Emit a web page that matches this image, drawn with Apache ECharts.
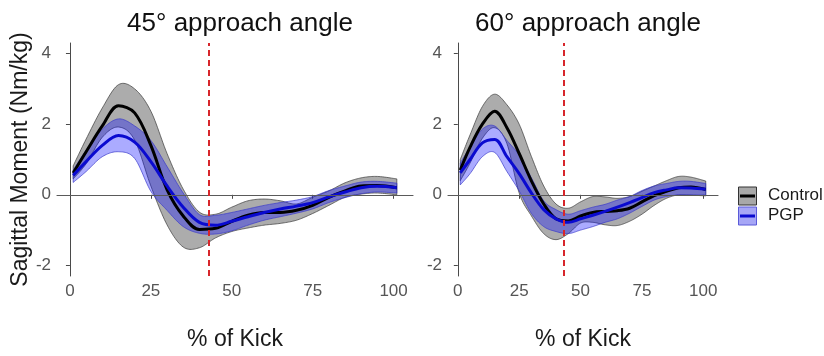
<!DOCTYPE html>
<html>
<head>
<meta charset="utf-8">
<script src="https://cdn.jsdelivr.net/npm/echarts@6/dist/echarts.min.js"></script>
<style>
  html, body { margin: 0; padding: 0; background: #fff; }
  #chart { width: 824px; height: 356px; }
</style>
</head>
<body>
<div id="chart"></div>
<script>
// % of kick sample points
const xs = [1, 5, 10, 15, 20, 25, 30, 35, 40, 45, 50, 55, 60, 65, 70, 75, 80, 85, 90, 95, 101]
const xTicks = [0, 25, 50, 75, 100]
const yTicks = [-2, 0, 2, 4]
const ballContact = 43

// 45 deg approach
const ctrl45Mean = [0.62, 1.22, 1.95, 2.52, 2.32, 1.4, 0.15, -0.6, -0.98, -0.95, -0.75, -0.58, -0.5, -0.5, -0.44, -0.3, -0.07, 0.11, 0.25, 0.26, 0.2]
const ctrl45Up = [0.82, 1.58, 2.46, 3.12, 3.0, 2.37, 1.17, 0.16, -0.49, -0.55, -0.35, -0.17, -0.12, -0.17, -0.26, -0.07, 0.11, 0.34, 0.48, 0.52, 0.45]
const ctrl45Lo = [0.45, 0.88, 1.63, 1.92, 1.55, 0.25, -0.85, -1.48, -1.5, -1.22, -1.04, -0.94, -0.86, -0.81, -0.72, -0.53, -0.3, -0.07, 0.02, 0.05, 0.0]
const pgp45Mean = [0.55, 0.94, 1.4, 1.68, 1.49, 0.94, 0.25, -0.35, -0.78, -0.86, -0.75, -0.62, -0.5, -0.4, -0.32, -0.22, -0.06, 0.08, 0.2, 0.24, 0.2]
const pgp45Up = [0.7, 1.26, 1.86, 2.15, 1.95, 1.54, 0.8, 0.05, -0.56, -0.58, -0.5, -0.4, -0.3, -0.22, -0.15, -0.05, 0.12, 0.25, 0.36, 0.38, 0.33]
const pgp45Lo = [0.35, 0.66, 1.08, 1.22, 1.03, 0.1, -0.44, -0.9, -1.09, -1.11, -1.02, -0.86, -0.72, -0.62, -0.52, -0.4, -0.22, -0.08, 0.03, 0.08, 0.05]

// 60 deg approach
const ctrl60Mean = [0.7, 1.35, 2.0, 2.37, 1.9, 1.17, 0.39, -0.26, -0.68, -0.74, -0.6, -0.5, -0.47, -0.45, -0.38, -0.2, -0.02, 0.1, 0.2, 0.22, 0.15]
const ctrl60Up = [1.0, 1.7, 2.5, 2.85, 2.55, 2.0, 1.08, 0.25, -0.26, -0.38, -0.2, -0.05, -0.06, -0.1, -0.05, 0.1, 0.25, 0.4, 0.52, 0.5, 0.39]
const ctrl60Lo = [0.4, 0.9, 1.6, 1.9, 1.45, 0.05, -0.6, -1.1, -1.27, -1.1, -0.8, -0.78, -0.85, -0.87, -0.75, -0.55, -0.3, -0.1, 0.0, -0.01, -0.03]
const pgp60Mean = [0.62, 1.0, 1.47, 1.57, 1.08, 0.6, 0.05, -0.42, -0.68, -0.78, -0.68, -0.58, -0.47, -0.35, -0.22, -0.08, 0.06, 0.14, 0.2, 0.19, 0.16]
const pgp60Up = [0.9, 1.35, 1.86, 1.95, 1.54, 1.12, 0.48, -0.17, -0.42, -0.55, -0.45, -0.35, -0.27, -0.15, -0.05, 0.12, 0.25, 0.32, 0.38, 0.38, 0.32]
const pgp60Lo = [0.28, 0.6, 1.08, 1.2, 0.66, 0.11, -0.53, -0.9, -1.04, -1.1, -1.0, -0.9, -0.78, -0.68, -0.52, -0.33, -0.15, -0.05, 0.0, 0.0, 0.0]

const FONT = 'Liberation Sans, Arial, sans-serif'
const GREY_FILL = 'rgba(95,95,95,0.52)'
const BLUE_FILL = 'rgba(10,10,255,0.34)'

const pts = ys => xs.map((x, i) => [x, ys[i]])

// catmull-rom through pixel points, sampled densely so the ribbon edge is smooth
function smoothPx (p) {
  const out = []
  const n = p.length
  for (let i = 0; i < n - 1; i++) {
    const p0 = p[Math.max(i - 1, 0)]
    const p1 = p[i]
    const p2 = p[i + 1]
    const p3 = p[Math.min(i + 2, n - 1)]
    for (let s = 0; s < 12; s++) {
      const t = s / 12
      const t2 = t * t
      const t3 = t2 * t
      const f = (a, b, c, d) => 0.5 * ((2 * b) + (-a + c) * t + (2 * a - 5 * b + 4 * c - d) * t2 + (-a + 3 * b - 3 * c + d) * t3)
      out.push([f(p0[0], p1[0], p2[0], p3[0]), f(p0[1], p1[1], p2[1], p3[1])])
    }
  }
  out.push(p[n - 1])
  return out
}

// ribbon between lower and upper bound, drawn as one polygon via axis coords
function band (idx, up, lo, fill, edge) {
  return {
    type: 'custom',
    xAxisIndex: idx,
    yAxisIndex: idx,
    silent: true,
    data: xs.map((x, i) => [x, lo[i], up[i]]),
    encode: { x: 0, y: [1, 2] },
    renderItem: function (params, api) {
      if (params.dataIndex !== 0) return null
      const top = xs.map((x, i) => api.coord([x, up[i]]))
      const bot = xs.map((x, i) => api.coord([x, lo[i]]))
      const poly = smoothPx(top).concat(smoothPx(bot).reverse())
      return {
        type: 'polygon',
        shape: { points: poly },
        style: { fill: fill, stroke: edge, lineWidth: 0.7 }
      }
    }
  }
}

function meanLine (idx, name, ys, color, extra) {
  return Object.assign({
    type: 'line',
    name: name,
    xAxisIndex: idx,
    yAxisIndex: idx,
    data: pts(ys),
    smooth: 0.35,
    symbol: 'none',
    lineStyle: { color: color, width: 3 }
  }, extra || {})
}

const refLines = {
  silent: true,
  symbol: 'none',
  label: { show: false },
  data: [
    { yAxis: 0, lineStyle: { color: '#5a5a5a', width: 1, type: 'solid' } },
    { xAxis: ballContact, lineStyle: { color: '#d7262b', width: 2, type: [6, 4] } }
  ]
}

function xAx (idx) {
  return {
    type: 'value',
    gridIndex: idx,
    min: -4,
    max: 106,
    name: '% of Kick',
    nameLocation: 'middle',
    nameGap: 52,
    nameTextStyle: { fontFamily: FONT, fontSize: 23, color: '#1a1a1a' },
    splitLine: { show: false },
    axisLine: { lineStyle: { color: '#4a4a4a', width: 1 } },
    axisTick: { show: true, length: 4, customValues: xTicks, lineStyle: { color: '#4a4a4a' } },
    axisLabel: { customValues: xTicks, margin: 7, fontFamily: FONT, fontSize: 17, color: '#555' }
  }
}

function yAx (idx, withName) {
  return {
    type: 'value',
    gridIndex: idx,
    min: -2.3,
    max: 4.3,
    name: withName ? 'Sagittal Moment (Nm/kg)' : '',
    nameLocation: 'middle',
    nameGap: 18,
    nameTextStyle: { fontFamily: FONT, fontSize: 23, color: '#1a1a1a' },
    splitLine: { show: false },
    axisLine: { show: true, lineStyle: { color: '#4a4a4a', width: 1 } },
    axisTick: { show: true, length: 4, customValues: yTicks, lineStyle: { color: '#4a4a4a' } },
    axisLabel: { customValues: yTicks, margin: 6, fontFamily: FONT, fontSize: 17, color: '#555' }
  }
}

const chart = echarts.init(document.getElementById('chart'))

const option = {
  animation: false,
  backgroundColor: '#ffffff',
  title: [
    { text: '45° approach angle', left: 235, top: 6, textAlign: 'center',
      textStyle: { fontFamily: FONT, fontSize: 26, fontWeight: 'normal', color: '#111' } },
    { text: '60° approach angle', left: 583, top: 6, textAlign: 'center',
      textStyle: { fontFamily: FONT, fontSize: 26, fontWeight: 'normal', color: '#111' } }
  ],
  grid: [
    { left: 57, top: 43, width: 356, height: 239 },
    { left: 448, top: 43, width: 270, height: 239 }
  ],
  xAxis: [xAx(0), xAx(1)],
  yAxis: [yAx(0, true), yAx(1, false)],
  series: [
    band(0, ctrl45Up, ctrl45Lo, GREY_FILL, '#3a3a3a'),
    meanLine(0, 'Control', ctrl45Mean, '#000'),
    band(0, pgp45Up, pgp45Lo, BLUE_FILL, '#3a3ac8'),
    meanLine(0, 'PGP', pgp45Mean, '#0a0ad0', { markLine: refLines }),

    band(1, ctrl60Up, ctrl60Lo, GREY_FILL, '#3a3a3a'),
    meanLine(1, 'Control', ctrl60Mean, '#000'),
    band(1, pgp60Up, pgp60Lo, BLUE_FILL, '#3a3ac8'),
    meanLine(1, 'PGP', pgp60Mean, '#0a0ad0', { markLine: refLines })
  ],
  // legend drawn like the ggplot keys (filled box + line)
  graphic: [
    { type: 'rect', shape: { x: 738.5, y: 187, width: 18, height: 18 },
      style: { fill: '#a8a8a8', stroke: '#333', lineWidth: 1 } },
    { type: 'line', shape: { x1: 740, y1: 196, x2: 755, y2: 196 },
      style: { stroke: '#000', lineWidth: 3 } },
    { type: 'rect', shape: { x: 738.5, y: 207, width: 18, height: 18 },
      style: { fill: '#a6a6f6', stroke: '#5a5ad8', lineWidth: 1 } },
    { type: 'line', shape: { x1: 740, y1: 216, x2: 755, y2: 216 },
      style: { stroke: '#0a0ad0', lineWidth: 3 } },
    { type: 'text', left: 768, top: 187,
      style: { text: 'Control', font: '17px ' + FONT, fill: '#1a1a1a' } },
    { type: 'text', left: 768, top: 207,
      style: { text: 'PGP', font: '17px ' + FONT, fill: '#1a1a1a' } }
  ]
}

chart.setOption(option)
</script>
</body>
</html>
